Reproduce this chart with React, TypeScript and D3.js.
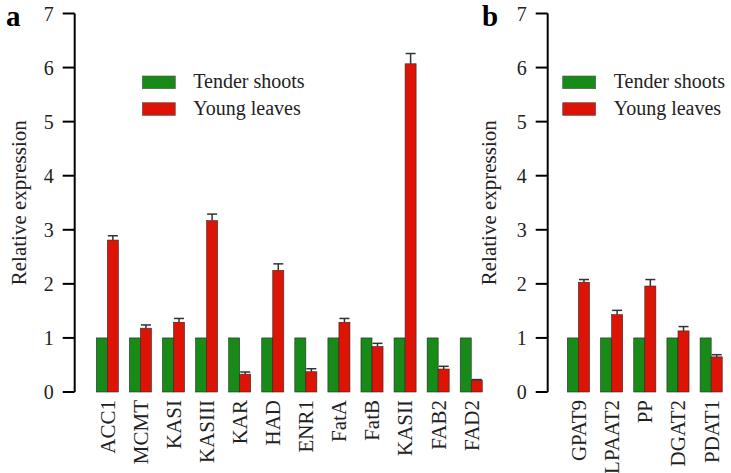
import React from "react";
import * as d3 from "d3";

const genesA = ["ACC1", "MCMT", "KASI", "KASIII", "KAR", "HAD", "ENR1", "FatA", "FatB", "KASII", "FAB2", "FAD2"];
const shootsA = [1, 1, 1, 1, 1, 1, 1, 1, 1, 1, 1, 1];
const leavesA = [2.81, 1.18, 1.29, 3.17, 0.33, 2.25, 0.375, 1.29, 0.84, 6.07, 0.425, 0.22];
const errA = [0.08, 0.06, 0.07, 0.12, 0.04, 0.12, 0.055, 0.07, 0.06, 0.19, 0.05, 0.01];

const genesB = ["GPAT9", "LPAAT2", "PP", "DGAT2", "PDAT1"];
const shootsB = [1, 1, 1, 1, 1];
const leavesB = [2.03, 1.43, 1.96, 1.13, 0.65];
const errB = [0.05, 0.08, 0.12, 0.08, 0.04];

const yTicks = [0, 1, 2, 3, 4, 5, 6, 7];
const seriesNames = ["Tender shoots", "Young leaves"];

const GREEN = "#178a17";
const RED = "#dd1405";
const FONT = "'Liberation Serif', 'Times New Roman', serif";

const y = d3.scaleLinear().domain([0, 7]).range([392, 13.5]);

type PanelProps = {
  genes: string[];
  shoots: number[];
  leaves: number[];
  errs: number[];
  axisX: number;
  range: [number, number];
  letter: string;
  letterX: number;
  legendX: number;
  yLabelX: number;
};

function Panel({ genes, shoots, leaves, errs, axisX, range, letter, letterX, legendX, yLabelX }: PanelProps) {
  const x = d3.scaleBand<string>().domain(genes).range(range).paddingInner(1 / 3).paddingOuter(1 / 3);
  const inner = d3.scaleBand<string>().domain(["s", "l"]).range([0, x.bandwidth()]);
  const midY = (y(0) + y(7)) / 2;
  return (
    <g fontFamily={FONT}>
      <text x={letterX} y={26} fontSize={29} fontWeight="bold" fill="#000">{letter}</text>
      {/* y axis */}
      <line x1={axisX} x2={axisX} y1={y(7)} y2={y(0)} stroke="#000" strokeWidth={2} />
      {yTicks.map((t) => (
        <g key={t}>
          <line x1={axisX - 12} x2={axisX} y1={y(t)} y2={y(t)} stroke="#000" strokeWidth={2} />
          <text x={axisX - 21} y={y(t)} dy="0.35em" textAnchor="end" fontSize={20} fill="#222">{t}</text>
        </g>
      ))}
      <text transform={`translate(${yLabelX},${midY}) rotate(-90)`} textAnchor="middle" fontSize={21} fill="#222">Relative expression</text>
      {/* bars */}
      {genes.map((g, i) => {
        const x0 = x(g)!;
        const xs = x0 + inner("s")!;
        const xl = x0 + inner("l")!;
        const w = inner.bandwidth();
        const cx = xl + w / 2;
        return (
          <g key={g}>
            <rect x={xs} y={y(shoots[i])} width={w} height={y(0) - y(shoots[i])} fill={GREEN} stroke="#2a2a2a" strokeWidth={0.6} />
            <rect x={xl} y={y(leaves[i])} width={w} height={y(0) - y(leaves[i])} fill={RED} stroke="#2a2a2a" strokeWidth={0.6} />
            <line x1={cx} x2={cx} y1={y(leaves[i] + errs[i])} y2={y(leaves[i])} stroke="#333" strokeWidth={1.5} />
            <line x1={cx - 5} x2={cx + 5} y1={y(leaves[i] + errs[i])} y2={y(leaves[i] + errs[i])} stroke="#333" strokeWidth={1.5} />
            <text transform={`translate(${x0 + x.bandwidth() / 2},${400}) rotate(-90)`} dy="0.35em" textAnchor="end" fontSize={21} fill="#222">{g}</text>
          </g>
        );
      })}
      {/* legend */}
      {seriesNames.map((s, i) => (
        <g key={s} transform={`translate(${legendX},${76 + i * 26.7})`}>
          <rect x={0} y={0} width={33} height={12.7} fill={i === 0 ? GREEN : RED} stroke="#555" strokeWidth={0.6} />
          <text x={51} y={12} fontSize={20} fill="#222">{s}</text>
        </g>
      ))}
    </g>
  );
}

export default function App() {
  return (
    <svg width={731} height={473} style={{ position: "absolute", left: 0, top: 0, background: "#fff" }}>
      <rect width={731} height={473} fill="#fff" />
      <Panel genes={genesA} shoots={shootsA} leaves={leavesA} errs={errA} axisX={74.7} range={[85.3, 493.3]}
        letter="a" letterX={6} legendX={142.3} yLabelX={26} />
      <Panel genes={genesB} shoots={shootsB} leaves={leavesB} errs={errB} axisX={547.7} range={[556.3, 733.3]}
        letter="b" letterX={482} legendX={562.7} yLabelX={496} />
    </svg>
  );
}
